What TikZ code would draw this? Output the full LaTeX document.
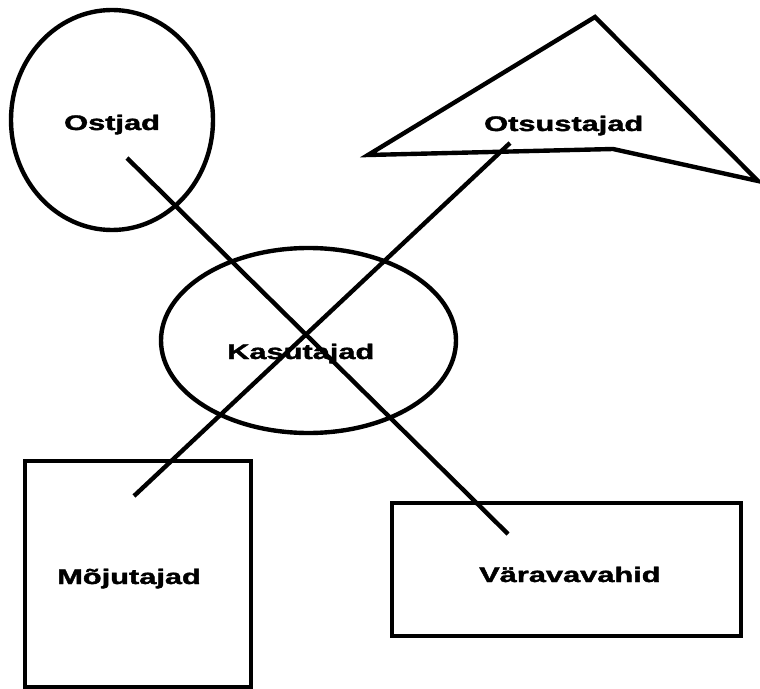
\documentclass[tikz,border=0pt]{standalone}
\usepackage{fontspec}
\setmainfont{Liberation Sans}
\newfontfamily\heavyfont{Liberation Sans}[BoldFeatures={FakeBold=1.6}]
\usepackage{graphicx}
\newcommand{\widelbl}[1]{\scalebox{1.46}[1]{#1}}

\begin{document}
\begin{tikzpicture}[x=0.02cm, y=-0.02cm, line width=2.5pt,
    lbl/.style={anchor=base west, inner sep=0pt, font=\fontsize{12}{14}\heavyfont\bfseries}]
  \useasboundingbox (0,0) rectangle (760,689);

% shapes
\draw (112,120) ellipse [x radius=101, y radius=110];
\draw (368,155)--(595,17)--(758,181)--(613,149)--cycle;
\draw (308.5,340.5) ellipse [x radius=147.5, y radius=92.5];
\draw (25,461) rectangle (251,687);
\draw (392,503) rectangle (741,636);

% labels
\node[lbl] (ostjad) at (62,130) {\widelbl{Ostjad}};
\node[lbl] (otsustajad) at (482,131) {\widelbl{Otsustajad}};
\node[lbl] (kasutajad) at (225,359) {\widelbl{Kasutajad}};
\node[lbl] (mojutajad) at (55,584) {\widelbl{Mõjutajad}};
\node[lbl] (varavahid) at (477,582) {\widelbl{Väravavahid}};

% crossing lines
\coordinate (ostjadEnd) at (127,158);
\coordinate (varavEnd) at (508,534);
\coordinate (otsusEnd) at (510,143);
\coordinate (mojutEnd) at (134,496);
\draw (ostjadEnd)--(varavEnd);
\draw (otsusEnd)--(mojutEnd);
\end{tikzpicture}
\end{document}
